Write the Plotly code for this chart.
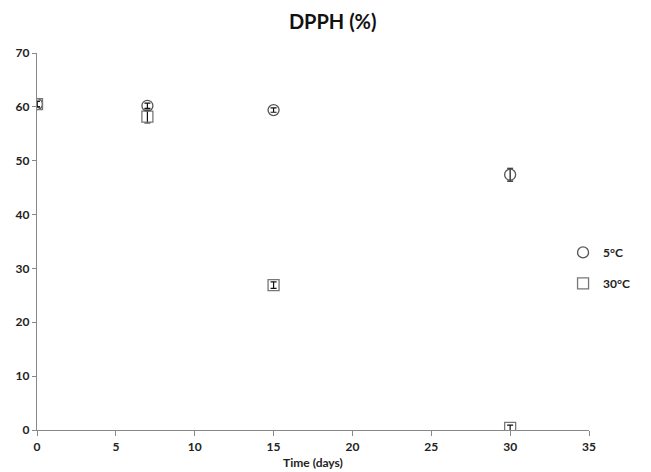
import plotly.graph_objects as go

days = [0, 7, 15, 30]
dpph_5c = [60.5, 60.2, 59.4, 47.4]
err_5c = [0.5, 0.5, 0.4, 1.2]
dpph_30c = [60.5, 58.2, 26.9, 0.4]
err_30c = [0.5, 1.2, 0.6, 0.5]

font_fam = "Lato, 'Open Sans', sans-serif"

fig = go.Figure()
fig.add_trace(go.Scatter(
    x=days, y=dpph_5c, mode="markers", name="<b>5°C</b>", legendgroup="a",
    marker=dict(symbol="circle-open", size=11, color="#555555", line=dict(width=1.3, color="#555555")),
    error_y=dict(type="data", array=err_5c, color="#111111", thickness=1.2, width=3),
))
fig.add_trace(go.Scatter(
    x=days, y=dpph_30c, mode="markers", name="<b>30°C</b>", legendgroup="b",
    marker=dict(symbol="square-open", size=11, color="#777777", line=dict(width=1.3, color="#777777")),
    error_y=dict(type="data", array=err_30c, color="#111111", thickness=1.2, width=3),
))

# page body has an 8px default margin, so the figure is sized to fit the window
fig.update_layout(
    width=643, height=464,
    margin=dict(l=29, r=62, t=45, b=42, autoexpand=False),
    paper_bgcolor="white", plot_bgcolor="white",
    font=dict(family=font_fam, size=12, color="#222222"),
    title=dict(text="<b>DPPH (%)</b>", x=0.505, xanchor="center", y=0.97, yanchor="middle",
               font=dict(family=font_fam, size=20, color="#111111")),
    showlegend=True,
    legend=dict(x=0.953, y=0.43, xanchor="left", yanchor="middle", itemwidth=30,
                traceorder="grouped", tracegroupgap=12,
                font=dict(family=font_fam, size=12, color="#222222"),
                bgcolor="rgba(0,0,0,0)"),
)
fig.update_xaxes(
    range=[0, 35], dtick=5, tick0=0, showgrid=False, zeroline=False,
    showline=True, linecolor="#888888", linewidth=1.2,
    ticks="outside", ticklen=5, tickcolor="#888888",
    tickfont=dict(family=font_fam, size=12, color="#222222"),
    tickprefix="<b>", ticksuffix="</b>",
    title=dict(text="<b>Time (days)</b>", standoff=6, font=dict(family=font_fam, size=12, color="#222222")),
)
fig.update_yaxes(
    range=[0, 70], dtick=10, tick0=0, showgrid=False, zeroline=False,
    showline=True, linecolor="#888888", linewidth=1.2,
    ticks="outside", ticklen=4, tickcolor="#888888",
    tickfont=dict(family=font_fam, size=12, color="#222222"),
    tickprefix="<b>", ticksuffix="</b>",
)

fig.write_html("out.html")
